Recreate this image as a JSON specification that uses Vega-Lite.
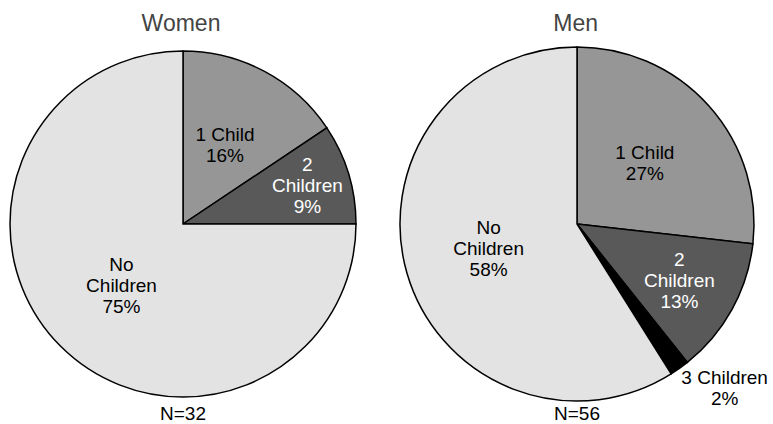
{
  "$schema": "https://vega.github.io/schema/vega-lite/v6.json",
  "background": "white",
  "padding": {"left": 0, "top": 13, "right": 0, "bottom": 0},
  "config": {
    "view": {"stroke": null},
    "font": "Liberation Sans",
    "title": {"font": "Liberation Sans", "fontWeight": "normal", "anchor": "middle"},
    "concat": {"spacing": 28}
  },
  "datasets": {
    "women": [
      {"cat": "1 Child", "n": 5, "label": "1 Child\n16%"},
      {"cat": "2 Children", "n": 3, "label": "2\nChildren\n9%"},
      {"cat": "No Children", "n": 24, "label": "No\nChildren\n75%"}
    ],
    "men": [
      {"cat": "1 Child", "n": 15, "label": "1 Child\n27%"},
      {"cat": "2 Children", "n": 7, "label": "2\nChildren\n13%"},
      {"cat": "3 Children", "n": 1, "label": "3 Children\n2%"},
      {"cat": "No Children", "n": 33, "label": "No\nChildren\n58%"}
    ]
  },
  "hconcat": [
    {
      "title": {"text": "Women", "fontSize": 23, "color": "#444444", "offset": 8, "dx": -2},
      "vconcat": [
        {
          "title": {"text": "N=32", "orient": "bottom", "fontSize": 19, "color": "#000000", "offset": 1, "frame": "group"},
          "width": 366,
          "height": 360,
          "data": {"name": "women"},
          "encoding": {
            "theta": {"field": "n", "type": "quantitative", "stack": true},
            "order": {"field": "cat", "type": "ordinal", "sort": "ascending"}
          },
          "layer": [
            {
              "mark": {"type": "arc", "outerRadius": 173, "stroke": "#000000", "strokeWidth": 1.5},
              "encoding": {
                "color": {
                  "field": "cat", "type": "nominal", "legend": null,
                  "scale": {"domain": ["1 Child", "2 Children", "3 Children", "No Children"], "range": ["#969696", "#595959", "#000000", "#e3e3e3"]}
                }
              }
            },
            {
              "mark": {"type": "text", "radius": 89, "dy": -10.5, "fontSize": 19, "lineBreak": "\n", "lineHeight": 21, "fill": "#000000", "baseline": "middle", "align": "center"},
              "encoding": {
                "detail": {"field": "cat", "type": "nominal"},
                "text": {"condition": {"test": "datum.cat === '1 Child'", "field": "label"}, "value": ""}
              }
            },
            {
              "mark": {"type": "text", "radius": 130, "dy": -21, "fontSize": 19, "lineBreak": "\n", "lineHeight": 21, "fill": "#ffffff", "baseline": "middle", "align": "center"},
              "encoding": {
                "detail": {"field": "cat", "type": "nominal"},
                "text": {"condition": {"test": "datum.cat === '2 Children'", "field": "label"}, "value": ""}
              }
            },
            {
              "mark": {"type": "text", "radius": 87, "dy": -21, "fontSize": 19, "lineBreak": "\n", "lineHeight": 21, "fill": "#000000", "baseline": "middle", "align": "center"},
              "encoding": {
                "detail": {"field": "cat", "type": "nominal"},
                "text": {"condition": {"test": "datum.cat === 'No Children'", "field": "label"}, "value": ""}
              }
            }
          ]
        }
      ]
    },
    {
      "title": {"text": "Men", "fontSize": 23, "color": "#444444", "offset": 8, "dx": -14},
      "vconcat": [
        {
          "title": {"text": "N=56", "orient": "bottom", "fontSize": 19, "color": "#000000", "offset": -4, "frame": "group"},
          "width": 366,
          "height": 360,
          "data": {"name": "men"},
          "encoding": {
            "theta": {"field": "n", "type": "quantitative", "stack": true},
            "order": {"field": "cat", "type": "ordinal", "sort": "ascending"}
          },
          "layer": [
            {
              "mark": {"type": "arc", "outerRadius": 177, "stroke": "#000000", "strokeWidth": 1.5},
              "encoding": {
                "color": {
                  "field": "cat", "type": "nominal", "legend": null,
                  "scale": {"domain": ["1 Child", "2 Children", "3 Children", "No Children"], "range": ["#969696", "#595959", "#000000", "#e3e3e3"]}
                }
              }
            },
            {
              "mark": {"type": "text", "radius": 91, "dy": -10.5, "fontSize": 19, "lineBreak": "\n", "lineHeight": 21, "fill": "#000000", "baseline": "middle", "align": "center"},
              "encoding": {
                "detail": {"field": "cat", "type": "nominal"},
                "text": {"condition": {"test": "datum.cat === '1 Child'", "field": "label"}, "value": ""}
              }
            },
            {
              "mark": {"type": "text", "radius": 117, "dy": -21, "fontSize": 19, "lineBreak": "\n", "lineHeight": 21, "fill": "#ffffff", "baseline": "middle", "align": "center"},
              "encoding": {
                "detail": {"field": "cat", "type": "nominal"},
                "text": {"condition": {"test": "datum.cat === '2 Children'", "field": "label"}, "value": ""}
              }
            },
            {
              "mark": {"type": "text", "radius": 205, "dx": 29, "dy": -13, "fontSize": 19, "lineBreak": "\n", "lineHeight": 21, "fill": "#000000", "baseline": "middle", "align": "center"},
              "encoding": {
                "detail": {"field": "cat", "type": "nominal"},
                "text": {"condition": {"test": "datum.cat === '3 Children'", "field": "label"}, "value": ""}
              }
            },
            {
              "mark": {"type": "text", "radius": 92, "dy": -21, "fontSize": 19, "lineBreak": "\n", "lineHeight": 21, "fill": "#000000", "baseline": "middle", "align": "center"},
              "encoding": {
                "detail": {"field": "cat", "type": "nominal"},
                "text": {"condition": {"test": "datum.cat === 'No Children'", "field": "label"}, "value": ""}
              }
            }
          ]
        }
      ]
    }
  ]
}
